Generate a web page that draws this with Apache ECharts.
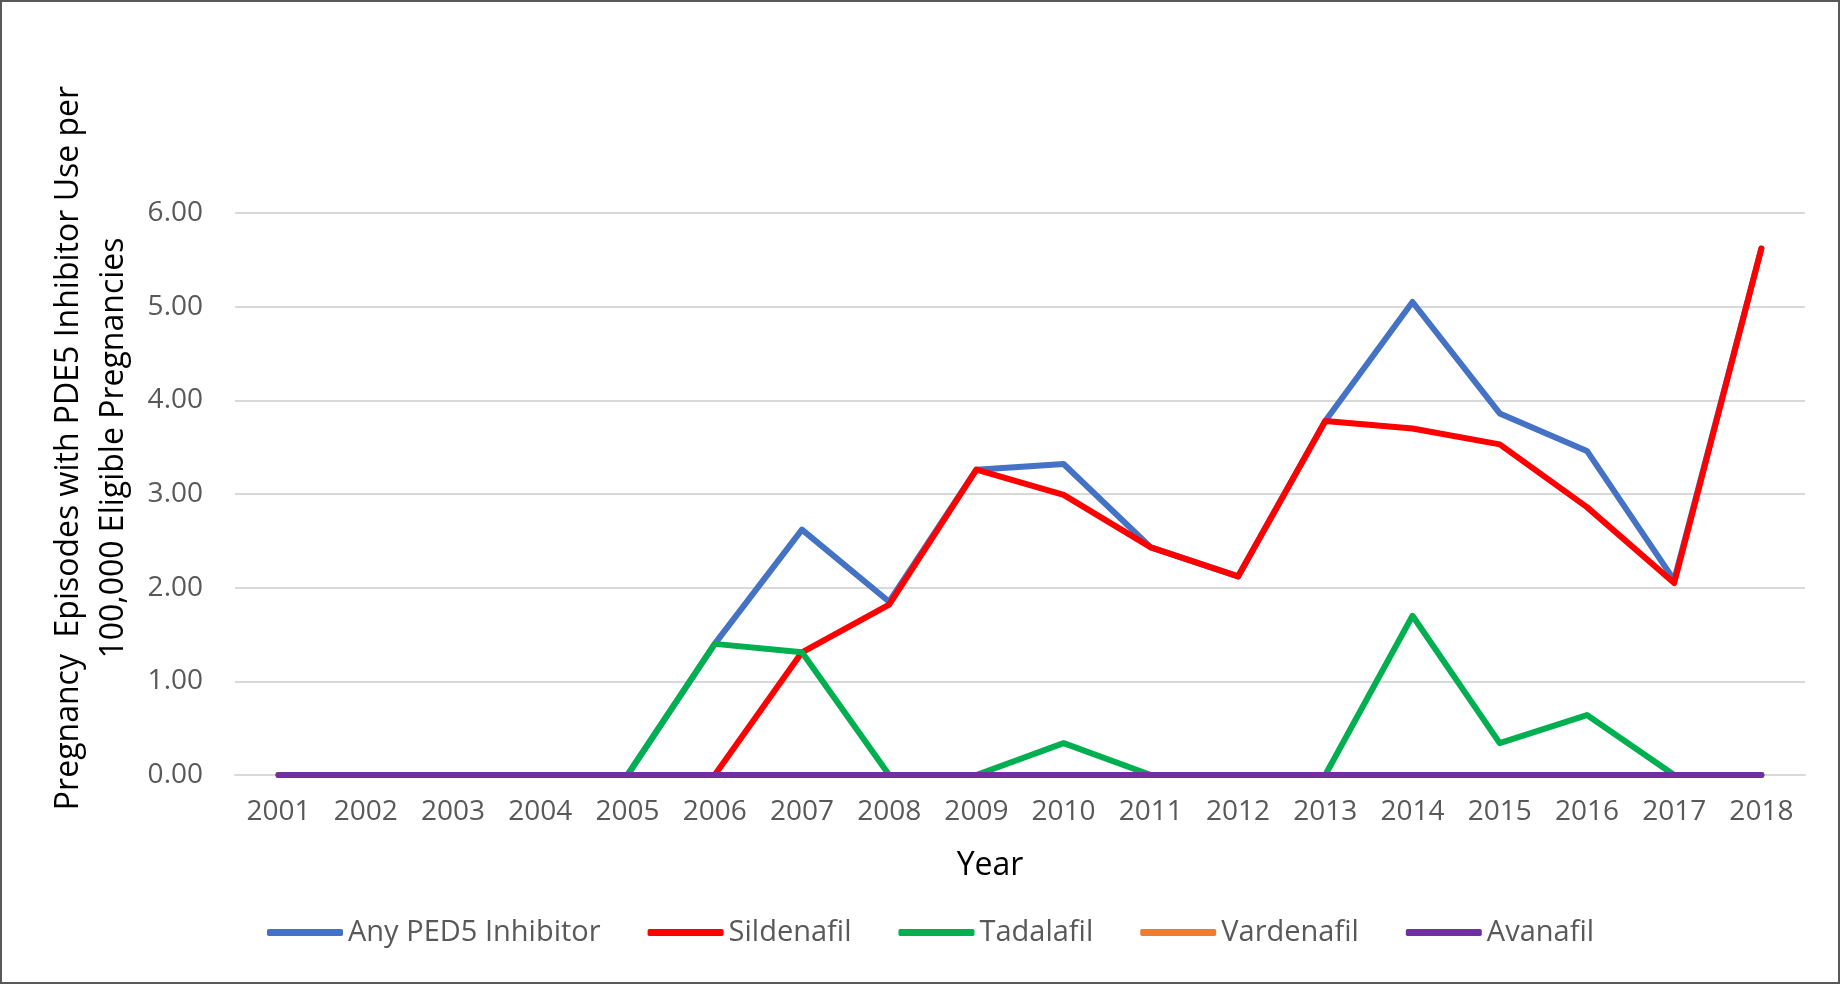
<!DOCTYPE html>
<html>
<head>
<meta charset="utf-8">
<script src="https://cdn.jsdelivr.net/npm/echarts@6/dist/echarts.min.js"></script>
<style>
  html, body {margin: 0; padding: 0; background: #fff;}
  #chart {width: 1842px; height: 985px;}
</style>
</head>
<body>
<div id="chart"></div>
<script>
const years = ['2001', '2002', '2003', '2004', '2005', '2006', '2007', '2008', '2009',
  '2010', '2011', '2012', '2013', '2014', '2015', '2016', '2017', '2018'];
const anyPde5 = [0, 0, 0, 0, 0, 1.40, 2.62, 1.85, 3.26, 3.32, 2.43, 2.12, 3.78, 5.05, 3.86, 3.46, 2.08, 5.62];
const sildenafil = [0, 0, 0, 0, 0, 0, 1.31, 1.82, 3.26, 2.99, 2.43, 2.12, 3.78, 3.70, 3.53, 2.86, 2.05, 5.62];
const tadalafil = [0, 0, 0, 0, 0, 1.40, 1.31, 0, 0, 0.34, 0, 0, 0, 1.70, 0.34, 0.64, 0, 0];
const vardenafil = [0, 0, 0, 0, 0, 0, 0, 0, 0, 0, 0, 0, 0, 0, 0, 0, 0, 0];
const avanafil = [0, 0, 0, 0, 0, 0, 0, 0, 0, 0, 0, 0, 0, 0, 0, 0, 0, 0];
const yTicks = [0, 1, 2, 3, 4, 5, 6];

const font = '"Open Sans", sans-serif';
const myChart = echarts.init(document.getElementById('chart'));

myChart.setOption({
  animation: false,
  textStyle: {fontFamily: font},
  grid: {left: 235, right: 37, top: 213, bottom: 210, containLabel: false},
  legend: {
    left: 262,
    top: 913,
    icon: 'roundRect',
    itemWidth: 76,
    itemHeight: 7,
    itemGap: 47,
    textStyle: {color: '#595959', fontSize: 29, fontFamily: font},
    data: ['Any PED5 Inhibitor', 'Sildenafil', 'Tadalafil', 'Vardenafil', 'Avanafil']
  },
  graphic: [
    {
      type: 'rect',
      shape: {x: 1, y: 1, width: 1838, height: 982},
      style: {fill: 'none', stroke: '#595959', lineWidth: 2}
    },
    {
      type: 'text',
      x: 91,
      y: 448,
      rotation: Math.PI / 2,
      style: {
        text: 'Pregnancy  Episodes with PDE5 Inhibitor Use per\n100,000 Eligible Pregnancies',
        font: '32px ' + font,
        fill: '#000',
        align: 'center',
        verticalAlign: 'middle',
        lineHeight: 45
      }
    },
    {
      type: 'text',
      x: 990,
      y: 866,
      style: {
        text: 'Year',
        font: '32px ' + font,
        fill: '#000',
        align: 'center',
        verticalAlign: 'middle'
      }
    }
  ],
  xAxis: {
    type: 'category',
    data: years,
    boundaryGap: true,
    axisTick: {show: false},
    axisLine: {show: true, lineStyle: {color: '#d9d9d9', width: 2}},
    axisLabel: {color: '#595959', fontSize: 28, margin: 23, interval: 0}
  },
  yAxis: {
    type: 'value',
    min: yTicks[0],
    max: yTicks[yTicks.length - 1],
    interval: 1,
    axisLine: {show: false},
    axisTick: {show: false},
    splitLine: {lineStyle: {color: '#d9d9d9', width: 2}},
    axisLabel: {
      color: '#595959',
      fontSize: 28,
      margin: 32,
      formatter: val => val.toFixed(2)
    }
  },
  series: [
    {name: 'Any PED5 Inhibitor', data: anyPde5, color: '#4472C4'},
    {name: 'Sildenafil', data: sildenafil, color: '#FF0000'},
    {name: 'Tadalafil', data: tadalafil, color: '#00B050'},
    {name: 'Vardenafil', data: vardenafil, color: '#ED7D31'},
    {name: 'Avanafil', data: avanafil, color: '#7030A0'}
  ].map(obj => ({
    ...obj,
    type: 'line',
    symbol: 'none',
    lineStyle: {width: 6, cap: 'round', join: 'round'}
  }))
});
</script>
</body>
</html>
